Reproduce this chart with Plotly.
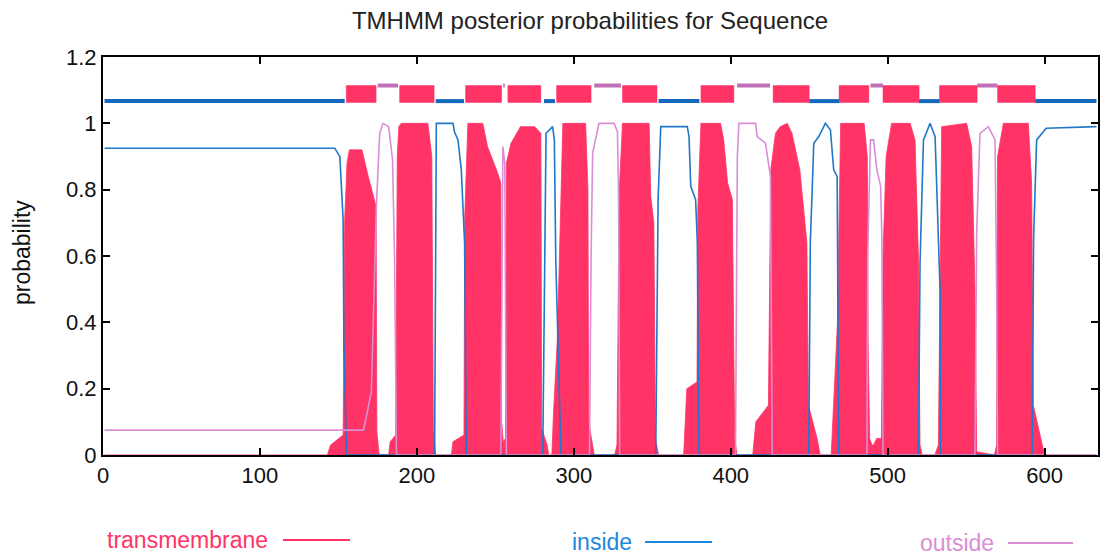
import plotly.graph_objects as go

# ---------------- data ----------------
tm_pos = [1, 143, 145, 150, 153, 154, 155.5, 157, 165, 169, 172, 174, 174.5, 176,
          182, 183, 186.5, 187.5, 188.5, 190, 207, 209.5, 210.5, 212,
          222, 223, 230, 230.5, 232.5, 242, 245, 248.5, 251.5, 253.5, 254, 255,
          256.5, 257, 260, 266, 275, 279, 279.5, 283, 284,
          286, 287, 289.5, 291, 293, 307.5, 309, 309.5, 312, 313,
          326, 327.5, 328.9, 331, 348, 349, 351, 352, 354,
          370, 372, 378.5, 379, 381, 393.5, 395.5, 398, 401, 402.5, 404,
          414, 416, 424, 425.5, 428.5, 431.5, 436, 439, 444, 448.5, 449.5, 455, 457,
          464, 465.5, 468, 470, 485, 487, 487.5, 488.5, 490,
          491, 493, 496, 497, 499, 502.5, 514.3, 517.4, 519.6, 520.6, 522,
          530, 532.3, 533.4, 534.4, 550.3, 553.5, 555.6, 556.7,
          568, 569.4, 570, 573.7, 589.6, 591.7, 592.8, 595, 599, 601, 633]
tm_prob = [0, 0, 0.03, 0.05, 0.06, 0.71, 0.88, 0.92, 0.92, 0.84, 0.79, 0.75, 0.07, 0,
           0, 0.04, 0.06, 0.9, 0.99, 1.0, 1.0, 0.9, 0.08, 0,
           0, 0.04, 0.06, 0.72, 1.0, 1.0, 0.93, 0.89, 0.85, 0.82, 0.1, 0.04,
           0.05, 0.88, 0.94, 0.99, 0.99, 0.97, 0.08, 0.03, 0,
           0, 0.12, 0.35, 0.6, 1.0, 1.0, 0.8, 0.1, 0.03, 0,
           0, 0.03, 0.79, 1.0, 1.0, 0.78, 0.7, 0.05, 0,
           0, 0.2, 0.22, 0.74, 1.0, 1.0, 0.95, 0.82, 0.77, 0.05, 0,
           0, 0.1, 0.15, 0.86, 0.97, 0.99, 1.0, 0.97, 0.86, 0.64, 0.15, 0.05, 0,
           0, 0.15, 0.4, 1.0, 1.0, 0.9, 0.35, 0.05, 0.03,
           0.03, 0.05, 0.05, 0.6, 0.9, 1.0, 1.0, 0.95, 0.59, 0.03, 0,
           0, 0.03, 0.5, 0.99, 1.0, 0.93, 0.5, 0.01,
           0, 0.03, 0.9, 1.0, 1.0, 0.82, 0.15, 0.1, 0.02, 0, 0]

ins_pos = [1, 147.7, 150.9, 153, 153.5, 155.2,
           211.3, 212.4, 223, 224, 226.2, 228.3, 230.4, 231.5,
           280.2, 282.3, 286.5, 287.6, 288.5, 289.7, 291.8,
           352.2, 353.7, 355.4, 372.3, 373.4, 374.5, 377.6, 378.7, 379.7,
           449.7, 450.7, 452.9, 456.1, 460.3, 463.5, 465.6, 467.8, 468.8,
           519.6, 520.6, 522.8, 527, 530.2, 531.6, 533.4, 533.6,
           592, 593, 594.9, 601, 633]
ins_prob = [0.925, 0.925, 0.90, 0.71, 0.33, 0,
            0, 1.0, 1.0, 0.974, 0.95, 0.86, 0.64, 0,
            0, 0.97, 0.99, 0.95, 0.59, 0.39, 0,
            0, 0.77, 0.99, 0.99, 0.96, 0.81, 0.77, 0.64, 0,
            0, 0.64, 0.94, 0.96, 1.0, 0.98, 0.86, 0.84, 0,
            0, 0.58, 0.95, 1.0, 0.96, 0.75, 0.49, 0,
            0, 0.66, 0.95, 0.985, 0.99]

out_pos = [1, 166, 171, 172.5, 174.2, 176.3, 178.4, 182, 184.5, 185.8, 187,
           253.5, 254.8, 256, 257,
           310, 311, 312, 316, 325.7, 327.8, 328.5, 329.2,
           403, 404.2, 405.2, 415.8, 416.8, 422.1, 425.3, 426.4,
           486.8, 487.2, 489, 491, 493.1, 495.5, 496.3, 497,
           555.6, 556.7, 558.8, 564.1, 568.4, 569.4, 570, 633]
out_prob = [0.075, 0.075, 0.19, 0.45, 0.75, 0.97, 1.0, 0.99, 0.89, 0.59, 0,
            0, 0.93, 0.88, 0,
            0, 0.6, 0.91, 1.0, 1.0, 0.975, 0.79, 0,
            0, 0.9, 1.0, 1.0, 0.96, 0.94, 0.84, 0,
            0, 0.59, 0.95, 0.95, 0.86, 0.81, 0.65, 0,
            0, 0.67, 0.97, 0.99, 0.95, 0.5, 0, 0]

# predicted topology (bars above the curves)
tm_start = [155, 189, 231, 258, 289, 331, 381, 427, 469, 497, 533, 570]
tm_end = [174, 211, 254, 279, 311, 353, 402, 450, 488, 520, 557, 594]
in_start = [1, 212, 281, 354, 450, 520, 594]
in_end = [154, 230, 288, 380, 469, 533, 633]
out_start = [175, 255, 313, 404, 489, 557]
out_end = [188, 256, 330, 425, 497, 570]

x_ticks = [0, 100, 200, 300, 400, 500, 600]
y_ticks = [0, 0.2, 0.4, 0.6, 0.8, 1.0, 1.2]
y_tick_text = ["0", "0.2", "0.4", "0.6", "0.8", "1", "1.2"]

# ---------------- styling ----------------
RED = "#ff3366"
BLUE = "#1f78c8"
BLUE_BAR = "#1468bd"
PINK = "#d98ed6"
PURPLE_BAR = "#c070b6"
FONT = "Liberation Sans, Arial, sans-serif"

TM_LO, TM_HI = 1.063, 1.114
IN_Y = 1.067
OUT_Y = 1.114

fig = go.Figure()

# transmembrane posterior (filled)
fig.add_trace(go.Scatter(x=tm_pos, y=tm_prob, mode="lines", fill="tozeroy",
                         fillcolor=RED, line=dict(color=RED, width=0.8),
                         hoverinfo="skip", showlegend=False))
# inside / outside posteriors
fig.add_trace(go.Scatter(x=ins_pos, y=ins_prob, mode="lines",
                         line=dict(color=BLUE, width=1.6), showlegend=False))
fig.add_trace(go.Scatter(x=out_pos, y=out_prob, mode="lines",
                         line=dict(color=PINK, width=1.6), showlegend=False))

# topology bars
bx, by = [], []
for s, e in zip(tm_start, tm_end):
    bx += [s, e, e, s, s, None]
    by += [TM_LO, TM_LO, TM_HI, TM_HI, TM_LO, None]
fig.add_trace(go.Scatter(x=bx, y=by, mode="lines", fill="toself", fillcolor=RED,
                         line=dict(color=RED, width=0.5), showlegend=False))

ix, iy = [], []
for s, e in zip(in_start, in_end):
    ix += [s, e, None]
    iy += [IN_Y, IN_Y, None]
fig.add_trace(go.Scatter(x=ix, y=iy, mode="lines",
                         line=dict(color=BLUE_BAR, width=4), showlegend=False))

ox, oy = [], []
for s, e in zip(out_start, out_end):
    ox += [s, e, None]
    oy += [OUT_Y, OUT_Y, None]
fig.add_trace(go.Scatter(x=ox, y=oy, mode="lines",
                         line=dict(color=PURPLE_BAR, width=4), showlegend=False))

# The page body adds an 8 px margin, so the figure is shrunk by that amount
# and all reference pixel positions are shifted by it.
OFF = 8
W, H = 1112 - OFF, 559 - OFF
L, T = 103 - OFF, 57 - OFF
R = W - (1098 - OFF)
B = H - (455 - OFF)
pw, ph = W - L - R, H - T - B


def px_x(p):
    return (p - OFF - L) / pw


def px_y(p):
    return (H - B - (p - OFF)) / ph


axis_common = dict(showline=True, linecolor="black", linewidth=2, mirror="ticks",
                   ticks="inside", ticklen=7, tickwidth=1.5, tickcolor="black",
                   showgrid=False, zeroline=False,
                   tickfont=dict(family=FONT, size=22, color="#111"))

fig.update_xaxes(range=[0, 634], tickvals=x_ticks, **axis_common)
fig.update_yaxes(range=[0, 1.2], tickvals=y_ticks, ticktext=y_tick_text, **axis_common)

legend_items = [
    ("transmembrane", RED, 105, 283, 350, 540),
    ("inside", "#1e88dc", 570, 645, 712, 542),
    ("outside", PINK, 918, 1008, 1073, 543),
]
annotations = [dict(text="probability", x=px_x(22), y=px_y(253), xref="paper", yref="paper",
                    xanchor="center", yanchor="middle", textangle=-90, showarrow=False,
                    font=dict(family=FONT, size=23, color="#111"))]
shapes = []
for text, col, tx, lx0, lx1, ly in legend_items:
    annotations.append(dict(text=text, x=px_x(tx), y=px_y(ly), xref="paper", yref="paper",
                            xanchor="left", yanchor="middle", showarrow=False,
                            font=dict(family=FONT, size=23, color=col)))
    shapes.append(dict(type="line", xref="paper", yref="paper",
                       x0=px_x(lx0), x1=px_x(lx1), y0=px_y(ly), y1=px_y(ly),
                       line=dict(color=col, width=2)))

fig.update_layout(
    width=W, height=H,
    margin=dict(l=L, r=R, t=T, b=B),
    paper_bgcolor="white", plot_bgcolor="white",
    title=dict(text="TMHMM posterior probabilities for Sequence",
               x=(590 - OFF) / W, xanchor="center", y=1 - (21 - OFF) / H, yanchor="middle",
               font=dict(family=FONT, size=24, color="#222")),
    annotations=annotations, shapes=shapes,
    showlegend=False,
)

fig.write_html("out.html")
